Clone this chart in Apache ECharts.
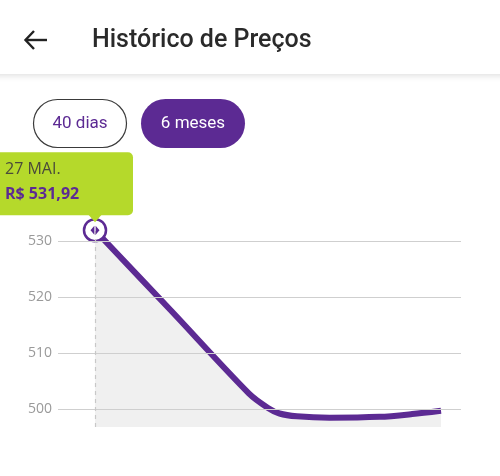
<!DOCTYPE html>
<html><head><meta charset="utf-8">
<script src="https://cdn.jsdelivr.net/npm/echarts@6/dist/echarts.min.js"></script>
<style>html,body{margin:0;padding:0;background:#fff}#c{width:500px;height:476px}</style>
</head><body><div id="c"></div>
<script>
const title = 'Histórico de Preços';
const buttons = ['40 dias', '6 meses'];
const days = [0, 40, 80, 90, 96, 105, 122, 148, 165, 180];
const prices = [531.92, 517.4, 502.8, 500.2, 499.2, 498.7, 498.45, 498.6, 499.1, 499.7];
const yTicks = [500, 510, 520, 530];
const tipDate = '27 MAI.';
const tipPrice = 'R$ 531,92';

const PURPLE = '#5c2a93';
const chart = echarts.init(document.getElementById('c'), null, {renderer: 'canvas'});
const lineData = days.map((d, i) => [d, prices[i]]);

chart.setOption({
  animation: false,
  grid: {left: 58, right: 39, top: 230, bottom: 49},
  xAxis: {type: 'value', show: false, min: -19.25, max: 190.4},
  yAxis: {
    type: 'value', min: 496.79, max: 531.96,
    splitLine: {show: false}, axisLine: {show: false}, axisTick: {show: false},
    axisLabel: {customValues: yTicks, color: '#9a9a9a', fontSize: 14, fontFamily: 'Open Sans', margin: 6}
  },
  series: [
    {
      type: 'line', data: lineData, smooth: 0.3, symbol: 'none', z: 1,
      lineStyle: {width: 0, opacity: 0},
      areaStyle: {color: '#f0f0f0', opacity: 1}
    },
    {
      type: 'line', data: [], z: 2, silent: true,
      markLine: {
        silent: true, symbol: 'none', label: {show: false},
        data: yTicks.map(v => ({yAxis: v, lineStyle: {color: '#cfcfcf', width: 1, type: 'solid'}}))
          .concat([{xAxis: days[0], lineStyle: {color: '#c8c8c8', width: 1.2, type: [4, 4]}}])
      }
    },
    {
      type: 'line', data: lineData, smooth: 0.3, symbol: 'none', z: 3, clip: false,
      lineStyle: {color: PURPLE, width: 6, cap: 'butt'}
    },
    {
      type: 'scatter', data: [lineData[0]], z: 4, clip: false,
      symbol: 'circle', symbolSize: 22,
      itemStyle: {color: '#fff', borderColor: PURPLE, borderWidth: 2.5, opacity: 1}
    },
    {
      type: 'scatter', data: [lineData[0]], z: 5, clip: false,
      symbol: 'path://M0,5 L4.3,0 L4.3,10 Z M5.7,0 L10,5 L5.7,10 Z', symbolSize: [9, 9],
      itemStyle: {color: PURPLE, opacity: 1}
    }
  ]
});

const p = chart.convertToPixel({xAxisIndex: 0, yAxisIndex: 0}, lineData[0]);
const px = p[0], py = p[1];

chart.setOption({
  graphic: [
    {type: 'rect', shape: {x: -10, y: -10, width: 520, height: 84}, z: 10,
     style: {fill: '#fff', shadowBlur: 6, shadowColor: 'rgba(0,0,0,0.12)', shadowOffsetY: 2}},
    {type: 'polyline', z: 11, shape: {points: [[34, 31], [25.5, 40], [34, 49]]},
     style: {stroke: '#222', lineWidth: 2.4, fill: null}},
    {type: 'line', z: 11, shape: {x1: 26, y1: 40, x2: 47, y2: 40}, style: {stroke: '#222', lineWidth: 2.4}},
    {type: 'text', z: 11, x: 92, y: 41,
     style: {text: title, fontFamily: 'Roboto', fontWeight: 500, fontSize: 25, fill: '#2a2a2a', verticalAlign: 'middle'}},
    {type: 'rect', z: 11, shape: {x: 33.5, y: 99.5, width: 93, height: 48, r: 24},
     style: {fill: '#fff', stroke: '#3a3a3a', lineWidth: 1.2}},
    {type: 'text', z: 12, x: 80, y: 124,
     style: {text: buttons[0], fontFamily: 'Roboto', fontSize: 17, fill: PURPLE, align: 'center', verticalAlign: 'middle'}},
    {type: 'rect', z: 11, shape: {x: 141, y: 99, width: 104, height: 49, r: 24.5},
     style: {fill: PURPLE}},
    {type: 'text', z: 12, x: 193, y: 124,
     style: {text: buttons[1], fontFamily: 'Roboto', fontSize: 17, fill: '#fff', align: 'center', verticalAlign: 'middle'}},
    {type: 'rect', z: 20, shape: {x: px - 105, y: py - 78, width: 143, height: 63, r: 5},
     style: {fill: '#b5d92b'}},
    {type: 'polygon', z: 20, shape: {points: [[px - 7, py - 16], [px + 7, py - 16], [px, py - 8]]},
     style: {fill: '#b5d92b'}},
    {type: 'text', z: 21, x: px - 90, y: py - 61,
     style: {text: tipDate, fontFamily: 'Open Sans', fontSize: 16, fill: '#4a4a3a', verticalAlign: 'middle'}},
    {type: 'text', z: 21, x: px - 90, y: py - 36,
     style: {text: tipPrice, fontFamily: 'Open Sans', fontWeight: 'bold', fontSize: 16, fill: PURPLE, verticalAlign: 'middle'}}
  ]
});
</script></body></html>
